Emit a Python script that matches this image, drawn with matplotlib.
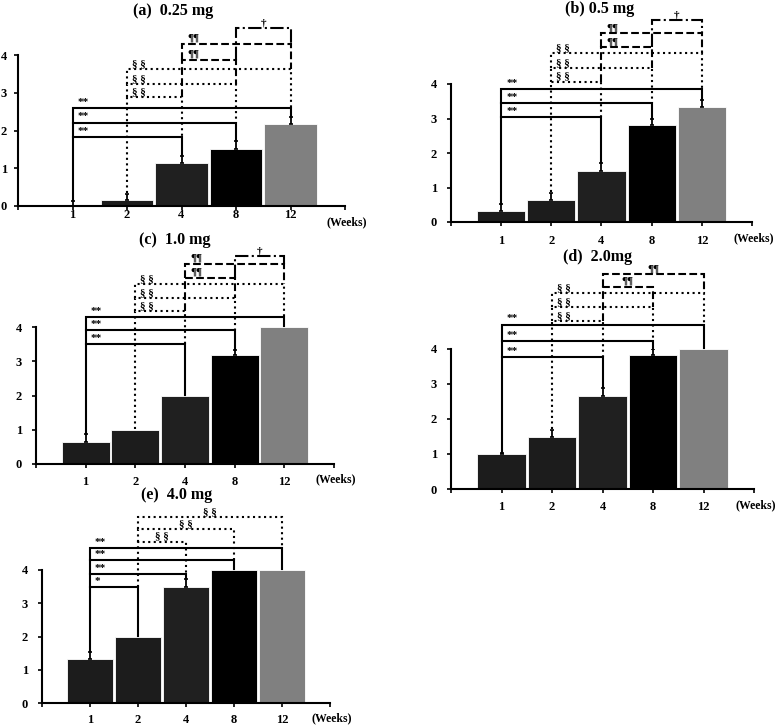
import matplotlib
matplotlib.use("Agg")
import matplotlib.pyplot as plt

plt.rcParams['font.family'] = ['Liberation Serif', 'DejaVu Serif']
plt.rcParams['font.weight'] = 'bold'

weeks = ['1', '2', '4', '8', '12']

vals_a = [0.0, 0.17, 1.15, 1.50, 2.17]
err_a = [0.13, 0.16, 0.18, 0.22, 0.18]
vals_b = [0.31, 0.65, 1.49, 2.82, 3.32]
err_b = [0.20, 0.20, 0.22, 0.17, 0.22]
vals_c = [0.65, 0.99, 2.00, 3.17, 4.00]
err_c = [0.22, 0.0, 0.0, 0.15, 0.0]
vals_d = [1.00, 1.50, 2.67, 3.82, 4.00]
err_d = [0.03, 0.20, 0.22, 0.17, 0.0]
vals_e = [1.33, 2.00, 3.50, 4.00, 4.00]
err_e = [0.20, 0.0, 0.22, 0.0, 0.0]

# significance brackets: (from, to, height, label, linestyle, label alignment)
br_a = [(0, 2, 1.83, '**', '-', 'l'), (0, 3, 2.21, '**', '-', 'l'), (0, 4, 2.60, '**', '-', 'l'),
        (1, 2, 2.88, '§ §', ':', 'l'), (1, 3, 3.22, '§ §', ':', 'l'), (1, 4, 3.63, '§ §', ':', 'l'),
        (2, 3, 3.88, '¶¶', '--', 'l'), (2, 4, 4.29, '¶¶', '--', 'l'), (3, 4, 4.71, '†', '-.', 'c')]
br_b = [(0, 2, 3.05, '**', '-', 'l'), (0, 3, 3.45, '**', '-', 'l'), (0, 4, 3.86, '**', '-', 'l'),
        (1, 2, 4.07, '§ §', ':', 'l'), (1, 3, 4.46, '§ §', ':', 'l'), (1, 4, 4.90, '§ §', ':', 'l'),
        (2, 3, 5.07, '¶¶', '--', 'l'), (2, 4, 5.47, '¶¶', '--', 'l'), (3, 4, 5.85, '†', '-.', 'c')]
br_c = [(0, 2, 3.49, '**', '-', 'l'), (0, 3, 3.90, '**', '-', 'l'), (0, 4, 4.29, '**', '-', 'l'),
        (1, 2, 4.46, '§ §', ':', 'l'), (1, 3, 4.84, '§ §', ':', 'l'), (1, 4, 5.26, '§ §', ':', 'l'),
        (2, 3, 5.43, '¶¶', '--', 'l'), (2, 4, 5.84, '¶¶', '--', 'l'), (3, 4, 6.06, '†', '-.', 'c')]
br_d = [(0, 2, 3.76, '**', '-', 'l'), (0, 3, 4.23, '**', '-', 'l'), (0, 4, 4.70, '**', '-', 'l'),
        (1, 2, 4.80, '§ §', ':', 'l'), (1, 3, 5.19, '§ §', ':', 'l'), (1, 4, 5.60, '§ §', ':', 'l'),
        (2, 3, 5.78, '¶¶', '--', 'c'), (2, 4, 6.14, '¶¶', '--', 'c')]
br_e = [(0, 1, 3.50, '*', '-', 'l'), (0, 2, 3.87, '**', '-', 'l'), (0, 3, 4.30, '**', '-', 'l'),
        (0, 4, 4.67, '**', '-', 'l'),
        (1, 2, 4.85, '§ §', ':', 'c'), (1, 3, 5.22, '§ §', ':', 'c'), (1, 4, 5.60, '§ §', ':', 'c')]

titles = ['(a)  0.25 mg', '(b) 0.5 mg', '(c)  1.0 mg', '(d)  2.0mg', '(e)  4.0 mg']

W, H = 777, 726
fig = plt.figure(figsize=(W / 100, H / 100), dpi=100)

# (left px, right px, y of 0 px, y of 4 px, xtick pad, ytick pad, title x, title y, weeks dy)
layout = [
    (18, 345, 206, 55, -1.0, 5.0, 173, 11, 16),
    (451, 752, 222, 84, 6.0, 7.0, 600, 9, 16),
    (36, 334, 464, 327, 5.5, 7.0, 175, 240, 15),
    (451, 754, 489, 349, 6.0, 7.0, 598, 257, 16),
    (42, 330, 703, 570, 5.0, 7.0, 177, 495, 15),
]

bar_colors = ['#1c1c1c', '#1c1c1c', '#202020', '#000000', '#808080']


def panel(ax, vals, errs, brackets):
    x = list(range(len(vals)))
    ax.bar(x, vals, width=0.96, color=bar_colors, edgecolor='white', linewidth=0.6, zorder=2)
    ex = [i for i in x if errs[i] > 0]
    ax.errorbar(ex, [vals[i] for i in ex], yerr=[[0] * len(ex), [errs[i] for i in ex]],
                fmt='none', ecolor='black', elinewidth=1.3, capsize=1.5, capthick=1.2, zorder=3)
    # brackets
    for (i, j, h, lab, ls, al) in brackets:
        def bottom(k):
            lower = [b[2] for b in brackets if (b[0] == k or b[1] == k) and b[2] < h]
            if lower:
                return max(lower)
            return vals[k] + errs[k] + 0.02
        ax.plot([i, i, j, j], [bottom(i), h, h, bottom(j)], ls=ls, color='black', lw=1.5,
                clip_on=False, zorder=4, solid_joinstyle='miter', dash_joinstyle='miter')
        if al == 'l':
            ax.text(i + 0.1, h + 0.03, lab, ha='left', va='bottom', fontsize=8, clip_on=False)
        else:
            ax.text((i + j) / 2, h + 0.03, lab, ha='center', va='bottom', fontsize=8, clip_on=False)
    ax.set_xlim(-1, 5)
    ax.set_ylim(0, 4)
    ax.set_xticks(x)
    ax.set_xticklabels(weeks)
    ax.set_xticks([-1, 5], minor=True)
    ax.set_yticks([0, 1, 2, 3, 4])
    for s in ['top', 'right']:
        ax.spines[s].set_visible(False)
    for s in ['left', 'bottom']:
        ax.spines[s].set_linewidth(1.5)
    ax.tick_params(axis='y', length=3, width=1.2, labelsize=9)
    ax.tick_params(axis='x', which='both', length=3, width=1.2, labelsize=9)


data = [(vals_a, err_a, br_a), (vals_b, err_b, br_b), (vals_c, err_c, br_c),
        (vals_d, err_d, br_d), (vals_e, err_e, br_e)]

for (vals, errs, brs), (l, r, y0, y4, xpad, ypad, tx, ty, wdy), title in zip(data, layout, titles):
    ax = fig.add_axes([l / W, 1 - y0 / H, (r - l) / W, (y0 - y4) / H])
    panel(ax, vals, errs, brs)
    ax.tick_params(axis='x', which='major', pad=xpad)
    ax.tick_params(axis='y', pad=ypad)
    fig.text(tx / W, 1 - ty / H, title, ha='center', va='center', fontsize=11.5)
    ax.annotate('(Weeks)', xy=(5, 0), xycoords='data', xytext=(2, -wdy),
                textcoords='offset pixels', ha='center', va='center', fontsize=8.5,
                annotation_clip=False)

fig.savefig('out.png', dpi=100)
